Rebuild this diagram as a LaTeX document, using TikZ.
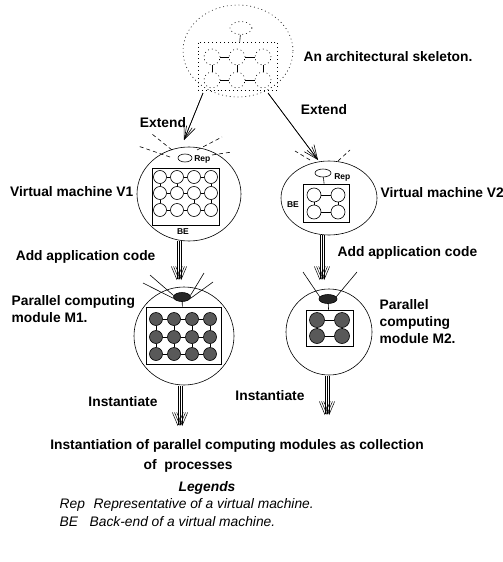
\documentclass[tikz,border=0pt]{standalone}
\usepackage{fontspec}
\setmainfont{Liberation Sans}
\usetikzlibrary{arrows.meta,shapes.geometric}

\begin{document}
\begin{tikzpicture}[
  x=1pt, y=-1pt, line width=0.6pt,
  every node/.style={font=\fontsize{13.8}{17}\selectfont\bfseries},
  tag/.style={font=\fontsize{8.5}{10}\selectfont\bfseries, inner sep=1pt},
  legend/.style={font=\fontsize{13.8}{17}\selectfont\itshape, anchor=west},
  oval/.style={draw, ellipse, inner sep=0pt},
  dots/.style={dash pattern=on 0.9pt off 3pt},
  proc/.style={draw, circle, minimum size=13pt, inner sep=0pt, fill=white},
  pfull/.style={draw, circle, minimum size=13pt, inner sep=0pt, fill=black!65},
  sproc/.style={draw, circle, minimum size=16pt, inner sep=0pt, dots},
  frame/.style={draw, inner sep=0pt},
  ext/.style={-{Straight Barb[length=14pt,width=12pt]}},
  extin/.style={-{Straight Barb[length=13pt,width=6pt]}},
  fan/.style={line width=0.5pt, -{Straight Barb[length=13pt,width=11pt]}},
  ray/.style={dash pattern=on 4pt off 3pt},
]
\useasboundingbox (0,0) rectangle (503,562);

% skeleton
\node[oval, dots, minimum width=110pt, minimum height=92pt] (skel) at (238,51) {};
\node[frame, dots, minimum width=79pt, minimum height=48pt] (sframe) at (237.5,66) {};
\node[oval, dots, minimum width=22pt, minimum height=13pt] (sroot) at (241,28) {};
\foreach \r/\y in {1/57,2/80}
  \foreach \c/\x in {1/212,2/237,3/263}
    \node[sproc] (s-\r-\c) at (\x,\y) {};
\draw (sroot) -- (sframe);
\draw (s-1-1) -- (s-1-2); \draw (s-1-2) -- (s-1-3);
\draw (s-2-1) -- (s-2-2); \draw (s-2-2) -- (s-2-3);
\draw (s-1-1) -- (s-2-1); \draw (s-1-2) -- (s-2-2); \draw (s-1-3) -- (s-2-3);
\node[anchor=west] (skeltxt) at (300,57) {An architectural skeleton.};

% extend
\coordinate (e1s) at (203,93);
\coordinate (e1e) at (184,140);
\coordinate (e2s) at (268,93);
\coordinate (e2e) at (318,160);
\draw[ext] (e1s) -- (e1e);
\draw[extin] (e1s) -- (e1e);
\draw[ext] (e2s) -- (e2e);
\draw[extin] (e2s) -- (e2e);
\node (ext1) at (163,123) {Extend};
\node (ext2) at (324,110) {Extend};

% virtual machine V1
\node[oval, minimum width=104pt, minimum height=94pt] (v1) at (189,194) {};
\node[oval, minimum width=14pt, minimum height=8pt] (rep1) at (185,158) {};
\node[tag, anchor=west] (rep1t) at (193,159) {Rep};
\draw[ray] (170,157) -- ++(-32,-11);
\draw[ray] (172,150) -- ++(-20,-16);
\draw[ray] (197,150) -- ++(25,-13);
\draw[ray] (212,155) -- ++(20,-3);
\node[frame, minimum width=67pt, minimum height=57pt] (be1) at (185.5,196.5) {};
\foreach \r/\y in {1/177,2/193,3/210}
  \foreach \c/\x in {1/160,2/177,3/194,4/211}
    \node[proc] (a-\r-\c) at (\x,\y) {};
\foreach \r in {1,2,3}
  \foreach \c/\n in {1/2,2/3,3/4}
    \draw (a-\r-\c) -- (a-\r-\n);
\foreach \c in {1,4} {
  \draw (a-1-\c) -- (a-2-\c);
  \draw (a-2-\c) -- (a-3-\c);
}
\draw (a-1-2.south) -- ++(0,3);
\draw (a-2-3.south) -- ++(0,3);
\node[tag] (be1t) at (183,232) {BE};
\node[anchor=east] (v1t) at (137,192) {Virtual machine V1};

% virtual machine V2
\node[oval, minimum width=96pt, minimum height=74pt] (v2) at (329,198) {};
\node[oval, minimum width=16pt, minimum height=8pt] (rep2) at (323,173) {};
\node[tag, anchor=west] (rep2t) at (333,177) {Rep};
\draw[ray] (310,160) -- ++(-15,-9);
\draw[ray] (338,161) -- ++(12,-11);
\node[frame, minimum width=46pt, minimum height=38pt] (be2) at (326,203) {};
\draw (rep2) -- (be2);
\foreach \r/\y in {1/195,2/212}
  \foreach \c/\x in {1/314,2/338}
    \node[proc, minimum size=14pt] (b-\r-\c) at (\x,\y) {};
\draw (b-1-1) -- (b-1-2); \draw (b-2-1) -- (b-2-2);
\draw (b-1-1) -- (b-2-1); \draw (b-1-2) -- (b-2-2);
\node[tag] (be2t) at (293,205) {BE};
\node[anchor=west] (v2t) at (377,193) {Virtual machine V2};

% add application code
\coordinate (c1s) at (179,241);
\coordinate (c1e) at (179,280);
\coordinate (c2s) at (322,235);
\coordinate (c2e) at (322,280);
\foreach \d in {-2.2,0,2.2} {
  \draw[fan] ([xshift=\d pt]c1s) -- ([xshift=\d pt]c1e);
  \draw[fan] ([xshift=\d pt]c2s) -- ([xshift=\d pt]c2e);
}
\node[anchor=east] (add1) at (159,257) {Add application code};
\node[anchor=west] (add2) at (334,253) {Add application code};

% module M1
\node[oval, minimum width=100pt, minimum height=98pt] (m1) at (184,336) {};
\node[oval, fill=black!85, minimum width=17pt, minimum height=9pt] (rep3) at (182,297) {};
\draw (rep3.170) -- (150,275);
\draw (rep3.190) -- (143,283);
\draw (rep3.10) -- (204,273);
\draw (rep3.350) -- (213,282);
\node[frame, minimum width=75pt, minimum height=57pt] (be3) at (183.5,335.5) {};
\draw (rep3) -- (be3);
\foreach \r/\y in {1/319,2/337,3/354}
  \foreach \c/\x in {1/156,2/174,3/192,4/210}
    \node[pfull] (c-\r-\c) at (\x,\y) {};
\foreach \r in {1,2,3}
  \foreach \c/\n in {1/2,2/3,3/4}
    \draw (c-\r-\c) -- (c-\r-\n);
\foreach \c in {1,2,3,4} {
  \draw (c-1-\c) -- (c-2-\c);
  \draw (c-2-\c) -- (c-3-\c);
}
\node[anchor=west, align=left] (m1t) at (8,309) {Parallel computing\\module M1.};

% module M2
\node[oval, minimum width=86pt, minimum height=86pt] (m2) at (329,332) {};
\node[oval, fill=black!85, minimum width=18pt, minimum height=9pt] (rep4) at (328,299) {};
\draw (rep4.165) -- (303,272);
\draw (rep4.15) -- (357,272);
\node[frame, minimum width=47pt, minimum height=36pt] (be4) at (329.5,328) {};
\draw (rep4) -- (be4);
\foreach \r/\y in {1/320,2/336}
  \foreach \c/\x in {1/317,2/342}
    \node[pfull, minimum size=15pt] (d-\r-\c) at (\x,\y) {};
\draw (d-1-1) -- (d-1-2); \draw (d-2-1) -- (d-2-2);
\draw (d-1-1) -- (d-2-1); \draw (d-1-2) -- (d-2-2);
\node[anchor=west, align=left] (m2t) at (376,322) {Parallel\\computing\\module M2.};

% instantiate
\coordinate (i1s) at (180,386);
\coordinate (i1e) at (180,426);
\coordinate (i2s) at (327,376);
\coordinate (i2e) at (327,415);
\foreach \d in {-2.2,0,2.2} {
  \draw[fan] ([xshift=\d pt]i1s) -- ([xshift=\d pt]i1e);
  \draw[fan] ([xshift=\d pt]i2s) -- ([xshift=\d pt]i2e);
}
\node (inst1) at (123,402) {Instantiate};
\node (inst2) at (270,396) {Instantiate};

\node (coll1) at (237,446) {Instantiation of parallel computing modules as collection};
\node[anchor=west] (coll2) at (140,466) {of\ \ processes};

% legends
\node[font=\fontsize{13.8}{17}\selectfont\bfseries\itshape] (leg) at (207,488) {Legends};
\node[legend] (legrep) at (56,505) {Rep};
\node[legend] (legrepd) at (90,505) {Representative of a virtual machine.};
\node[legend] (legbe) at (56,522) {BE};
\node[legend] (legbed) at (86,522) {Back-end of a virtual machine.};
\end{tikzpicture}
\end{document}
